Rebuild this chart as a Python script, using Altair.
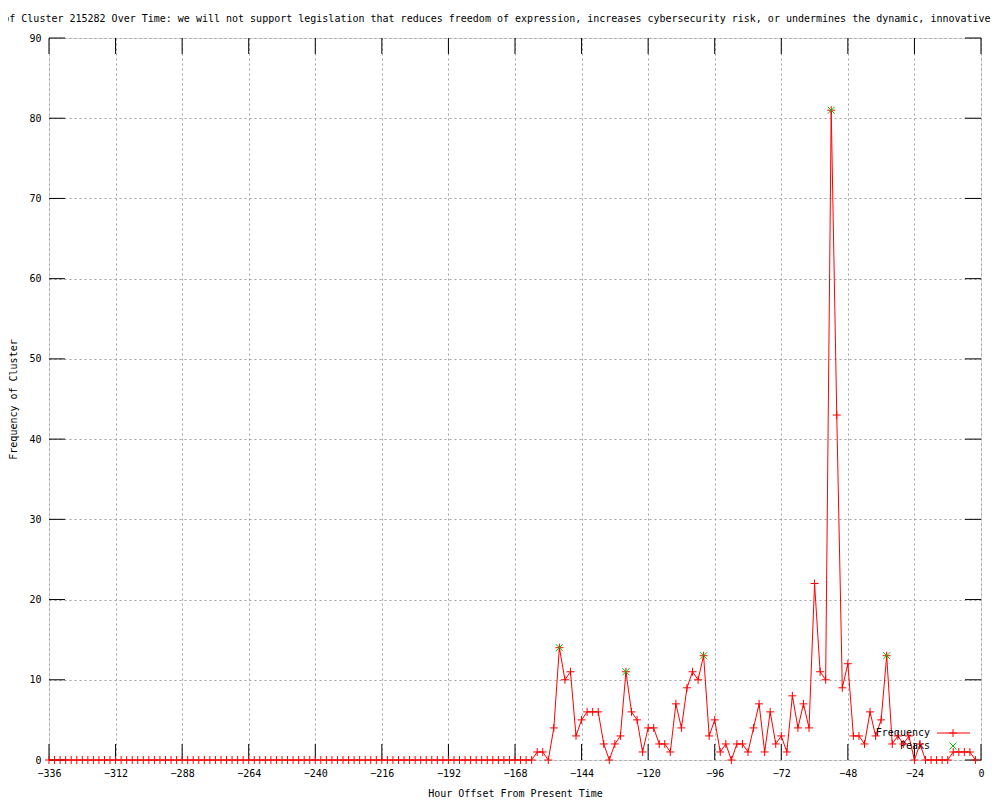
import altair as alt
import pandas as pd

# ---------------- data ----------------
hours = list(range(-336, 0, 2))
frequency = [
    0, 0, 0, 0, 0, 0, 0, 0, 0, 0, 0, 0, 0, 0, 0, 0, 0, 0, 0, 0, 0, 0,
    0, 0, 0, 0, 0, 0, 0, 0, 0, 0, 0, 0, 0, 0, 0, 0, 0, 0, 0, 0, 0, 0,
    0, 0, 0, 0, 0, 0, 0, 0, 0, 0, 0, 0, 0, 0, 0, 0, 0, 0, 0, 0, 0, 0,
    0, 0, 0, 0, 0, 0, 0, 0, 0, 0, 0, 0, 0, 0, 0, 0, 0, 0, 0, 0, 0, 0,
    1, 1, 0, 4, 14, 10, 11, 3, 5, 6,
    6, 6, 2, 0, 2, 3, 11, 6, 5, 1,
    4, 4, 2, 2, 1, 7, 4, 9, 11, 10,
    13, 3, 5, 1, 2, 0, 2, 2, 1, 4,
    7, 1, 6, 2, 3, 1, 8, 4, 7, 4,
    22, 11, 10, 81, 43, 9, 12, 3, 3, 2,
    6, 3, 5, 13, 2, 3, 2, 3, 0, 2,
    0, 0, 0, 0, 0, 1, 1, 1, 1, 0,
]
peak_hours = [-152, -128, -100, -54, -34]
peak_values = [14, 11, 13, 81, 13]

x_ticks = [-336, -312, -288, -264, -240, -216, -192, -168, -144, -120, -96, -72, -48, -24, 0]
y_ticks = [0, 10, 20, 30, 40, 50, 60, 70, 80, 90]
legend_labels = ["Frequency", "Peaks"]

TITLE = ("Frequency of Cluster 215282 Over Time: we will not support legislation that reduces "
         "freedom of expression, increases cybersecurity risk, or undermines the dynamic, "
         "innovative global internet")
X_TITLE = "Hour Offset From Present Time"
Y_TITLE = "Frequency of Cluster"

# ---------------- style ----------------
W, H = 932, 722
TICK = 16
FONT = "DejaVu Sans Mono"
RED = "#ff0000"
GREEN = "#00c000"
GRID = "#a0a0a0"
PLUS = "M-1,0L1,0M0,-1L0,1"
XSHAPE = "M-1,-1L1,1M-1,1L1,-1"

df = pd.DataFrame({"hour": hours, "freq": frequency})
peaks = pd.DataFrame({"hour": peak_hours, "freq": peak_values})
xt = pd.DataFrame({"hour": x_ticks})
yt = pd.DataFrame({"freq": y_ticks})

x_scale = alt.Scale(domain=[-336, 0], nice=False, zero=False)
y_scale = alt.Scale(domain=[0, 90], nice=False, zero=False)

x_axis = alt.Axis(values=x_ticks, title=X_TITLE, grid=True, gridColor=GRID,
                  gridDash=[2, 3], gridWidth=1, ticks=False, tickSize=0, domain=False,
                  labelPadding=8, labelFont=FONT, labelFontSize=10, labelColor="black",
                  labelFlush=False, labelOverlap=False,
                  titleFont=FONT, titleFontSize=10, titleFontWeight="normal", titleColor="black",
                  titleX=W / 2, titleY=33, titleBaseline="middle", titleAlign="center")
y_axis = alt.Axis(values=y_ticks, title=Y_TITLE, grid=True, gridColor=GRID,
                  gridDash=[2, 3], gridWidth=1, ticks=False, tickSize=0, domain=False,
                  labelPadding=8, labelFont=FONT, labelFontSize=10, labelColor="black",
                  labelFlush=False, labelOverlap=False,
                  titleFont=FONT, titleFontSize=10, titleFontWeight="normal", titleColor="black",
                  titleX=-36, titleY=H / 2, titleAngle=270, titleBaseline="middle",
                  titleAlign="center")

X = alt.X("hour:Q", scale=x_scale, axis=x_axis)
Y = alt.Y("freq:Q", scale=y_scale, axis=y_axis)

line = alt.Chart(df).mark_line(color=RED, strokeWidth=1).encode(x=X, y=Y)
pts = alt.Chart(df).mark_point(shape=PLUS, filled=False, stroke=RED, strokeWidth=1,
                               size=64, opacity=1).encode(x=X, y=Y)
pk = alt.Chart(peaks).mark_point(shape=XSHAPE, filled=False, stroke=GREEN, strokeWidth=1,
                                 size=49, opacity=1).encode(x=X, y=Y)

tick_b = alt.Chart(xt).mark_rule(color="black", strokeWidth=1).encode(
    x=X, y=alt.value(H), y2=alt.value(H - TICK))
tick_t = alt.Chart(xt).mark_rule(color="black", strokeWidth=1).encode(
    x=X, y=alt.value(0), y2=alt.value(TICK))
tick_l = alt.Chart(yt).mark_rule(color="black", strokeWidth=1).encode(
    y=Y, x=alt.value(0), x2=alt.value(TICK))
tick_r = alt.Chart(yt).mark_rule(color="black", strokeWidth=1).encode(
    y=Y, x=alt.value(W), x2=alt.value(W - TICK))

LX, LY1, LY2 = 881, 695, 708
leg1 = pd.DataFrame({"label": [legend_labels[0]]})
leg2 = pd.DataFrame({"label": [legend_labels[1]]})
leg_t1 = alt.Chart(leg1).mark_text(align="right", baseline="middle", font=FONT, fontSize=10,
                                   color="black").encode(
    text="label:N", x=alt.value(LX), y=alt.value(LY1))
leg_t2 = alt.Chart(leg2).mark_text(align="right", baseline="middle", font=FONT, fontSize=10,
                                   color="black").encode(
    text="label:N", x=alt.value(LX), y=alt.value(LY2))
leg_line = alt.Chart(leg1).mark_rule(color=RED, strokeWidth=1).encode(
    x=alt.value(LX + 7), x2=alt.value(LX + 40), y=alt.value(LY1))
leg_pt = alt.Chart(leg1).mark_point(shape=PLUS, filled=False, stroke=RED, strokeWidth=1,
                                    size=64, opacity=1).encode(
    x=alt.value(LX + 23), y=alt.value(LY1))
leg_pk = alt.Chart(leg2).mark_point(shape=XSHAPE, filled=False, stroke=GREEN, strokeWidth=1,
                                    size=49, opacity=1).encode(
    x=alt.value(LX + 23), y=alt.value(LY2))

chart = alt.layer(
    line, tick_b, tick_t, tick_l, tick_r,
    leg_t1, leg_t2, leg_line, leg_pt, leg_pk,
    pts, pk,
).properties(
    width=W, height=H,
    title=alt.TitleParams(text=TITLE, font=FONT, fontSize=10, fontWeight="normal",
                          color="black", anchor="middle", frame="group",
                          baseline="bottom", offset=4, dy=5),
    padding={"left": 41, "top": 30, "right": 10, "bottom": 40},
    autosize=alt.AutoSizeParams(type="none"),
).configure_view(stroke="black", strokeWidth=1).configure(background="white")

chart.save("out.html", embed_options={"renderer": "svg", "actions": False})
